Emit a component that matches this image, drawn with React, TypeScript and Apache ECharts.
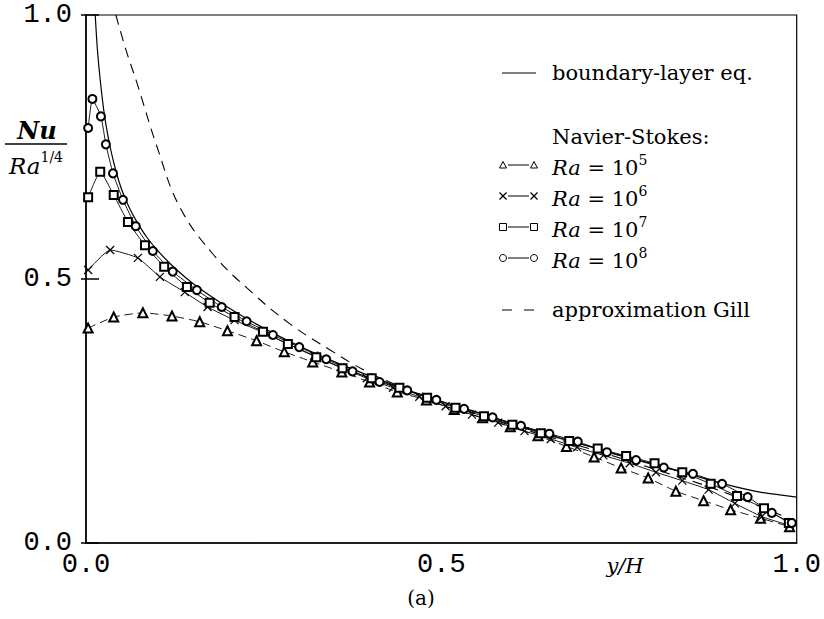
import React, { useEffect, useRef } from "react";
import * as echarts from "echarts";

// x-axis tick labels / y-axis tick labels
const xTickLabels = ["0.0", "0.5", "1.0"];
const yTickLabels = ["0.0", "0.5", "1.0"];

// boundary-layer equations (solid curve)
const blX = [0.013, 0.016, 0.02, 0.026, 0.034, 0.042, 0.05, 0.06, 0.07, 0.085, 0.1, 0.12, 0.14, 0.16, 0.2, 0.25, 0.3, 0.35, 0.4, 0.45, 0.5, 0.55, 0.6, 0.65, 0.7, 0.75, 0.8, 0.85, 0.9, 0.95, 1.0];
const blY = [1.0, 0.935, 0.877, 0.81, 0.75, 0.705, 0.67, 0.638, 0.612, 0.58, 0.555, 0.527, 0.503, 0.482, 0.446, 0.407, 0.373, 0.343, 0.316, 0.291, 0.268, 0.248, 0.226, 0.206, 0.186, 0.167, 0.149, 0.13, 0.111, 0.096, 0.087];

// Gill approximation (dashed curve)
const gillX = [0.042, 0.056, 0.072, 0.1, 0.132, 0.18, 0.233, 0.287, 0.343, 0.399, 0.455, 0.511, 0.6, 0.7, 0.8, 0.9, 1.0];
const gillY = [1.0, 0.935, 0.87, 0.75, 0.636, 0.545, 0.475, 0.415, 0.366, 0.322, 0.29, 0.262, 0.222, 0.182, 0.14, 0.095, 0.04];

// Navier-Stokes, Ra = 1e5 (triangles)
const ra5X = [0.003, 0.039, 0.08, 0.121, 0.16, 0.199, 0.24, 0.279, 0.319, 0.36, 0.399, 0.438, 0.479, 0.518, 0.558, 0.597, 0.636, 0.676, 0.715, 0.753, 0.791, 0.83, 0.869, 0.907, 0.949, 0.99];
const ra5Y = [0.407, 0.428, 0.436, 0.43, 0.419, 0.402, 0.383, 0.362, 0.343, 0.324, 0.305, 0.286, 0.271, 0.253, 0.237, 0.22, 0.203, 0.183, 0.163, 0.142, 0.123, 0.098, 0.08, 0.063, 0.047, 0.031];

// Navier-Stokes, Ra = 1e6 (crosses)
const ra6X = [0.003, 0.034, 0.073, 0.104, 0.139, 0.171, 0.209, 0.247, 0.284, 0.321, 0.358, 0.395, 0.432, 0.469, 0.506, 0.543, 0.58, 0.617, 0.654, 0.691, 0.728, 0.765, 0.802, 0.839, 0.876, 0.913, 0.951, 0.99];
const ra6Y = [0.517, 0.555, 0.54, 0.504, 0.475, 0.447, 0.422, 0.4, 0.377, 0.355, 0.333, 0.312, 0.294, 0.277, 0.259, 0.243, 0.228, 0.212, 0.197, 0.181, 0.166, 0.151, 0.134, 0.118, 0.101, 0.075, 0.05, 0.033];

// Navier-Stokes, Ra = 1e7 (squares)
const ra7X = [0.003, 0.02, 0.039, 0.059, 0.083, 0.11, 0.142, 0.174, 0.209, 0.249, 0.284, 0.324, 0.361, 0.402, 0.441, 0.48, 0.52, 0.56, 0.6, 0.64, 0.68, 0.72, 0.76, 0.8, 0.839, 0.879, 0.916, 0.954, 0.989];
const ra7Y = [0.655, 0.703, 0.659, 0.608, 0.564, 0.523, 0.485, 0.455, 0.428, 0.4, 0.377, 0.352, 0.331, 0.312, 0.294, 0.275, 0.256, 0.24, 0.224, 0.208, 0.193, 0.179, 0.165, 0.151, 0.134, 0.112, 0.089, 0.066, 0.038];

// Navier-Stokes, Ra = 1e8 (circles)
const ra8X = [0.003, 0.009, 0.021, 0.028, 0.038, 0.052, 0.07, 0.094, 0.122, 0.156, 0.191, 0.226, 0.263, 0.3, 0.338, 0.375, 0.413, 0.452, 0.493, 0.532, 0.572, 0.612, 0.652, 0.692, 0.733, 0.774, 0.813, 0.854, 0.895, 0.931, 0.965, 0.993];
const ra8Y = [0.786, 0.841, 0.808, 0.755, 0.7, 0.65, 0.6, 0.553, 0.514, 0.479, 0.447, 0.42, 0.394, 0.371, 0.348, 0.325, 0.305, 0.289, 0.271, 0.254, 0.238, 0.222, 0.207, 0.192, 0.172, 0.157, 0.143, 0.131, 0.112, 0.087, 0.057, 0.038];

const legendRaExp = ["5", "6", "7", "8"];

const pairs = (xs: number[], ys: number[]) => xs.map((x, i) => [x, ys[i]]);

const CROSS = "path://M0,0L10,10M10,0L0,10";

export default function App() {
  const ref = useRef<HTMLDivElement>(null);

  useEffect(() => {
    if (!ref.current) return;
    const chart = echarts.init(ref.current, null, { renderer: "svg" });
    const serif = "DejaVu Serif";
    const mono = "Liberation Mono";
    const black = "#000";

    const fmt = (labels: string[]) => (v: number) => labels[Math.round(v * 2)] ?? "";

    const nsSeries = (name: string, xs: number[], ys: number[], symbol: string, size: number, dashed: boolean) => ({
      name,
      type: "line",
      data: pairs(xs, ys),
      symbol,
      symbolSize: size,
      showAllSymbol: true,
      smooth: 0.15,
      lineStyle: { color: black, width: 0.9, type: dashed ? [8, 5] : "solid" },
      itemStyle: { color: symbol === CROSS ? "none" : black, borderColor: black, borderWidth: symbol === CROSS ? 1.2 : 1 },
      z: 3,
    });

    const rowY = [165, 196, 227, 258];
    const legendGraphics: any[] = [];
    legendGraphics.push({ type: "line", shape: { x1: 502, y1: 73, x2: 536, y2: 73 }, style: { stroke: black, lineWidth: 1.2 } });
    legendGraphics.push({ type: "text", x: 552, y: 73, style: { text: "boundary-layer eq.", font: `21px '${serif}'`, fill: black, verticalAlign: "middle" } });
    legendGraphics.push({ type: "text", x: 552, y: 137, style: { text: "Navier-Stokes:", font: `21px '${serif}'`, fill: black, verticalAlign: "middle" } });
    rowY.forEach((y, i) => {
      legendGraphics.push({ type: "line", shape: { x1: 508, y1: y, x2: 529, y2: y }, style: { stroke: black, lineWidth: 1 } });
      [503, 534].forEach((cx) => {
        if (i === 0) {
          legendGraphics.push({ type: "polygon", shape: { points: [[cx, y - 3.5], [cx - 3.5, y + 3], [cx + 3.5, y + 3]] }, style: { fill: "#fff", stroke: black, lineWidth: 1 } });
        } else if (i === 1) {
          legendGraphics.push({ type: "line", shape: { x1: cx - 3.5, y1: y - 3.5, x2: cx + 3.5, y2: y + 3.5 }, style: { stroke: black, lineWidth: 1.2 } });
          legendGraphics.push({ type: "line", shape: { x1: cx + 3.5, y1: y - 3.5, x2: cx - 3.5, y2: y + 3.5 }, style: { stroke: black, lineWidth: 1.2 } });
        } else if (i === 2) {
          legendGraphics.push({ type: "rect", shape: { x: cx - 3.5, y: y - 3.5, width: 7, height: 7 }, style: { fill: "#fff", stroke: black, lineWidth: 1 } });
        } else {
          legendGraphics.push({ type: "circle", shape: { cx, cy: y, r: 3.5 }, style: { fill: "#fff", stroke: black, lineWidth: 1 } });
        }
      });
      legendGraphics.push({
        type: "text",
        x: 552,
        y: y - 12,
        style: {
          text: `{i|Ra}{n| = 10}{s|${legendRaExp[i]}}`,
          fill: black,
          rich: {
            i: { fontFamily: serif, fontStyle: "italic", fontSize: 21, lineHeight: 25, verticalAlign: "bottom" },
            n: { fontFamily: serif, fontSize: 21, lineHeight: 25, verticalAlign: "bottom" },
            s: { fontFamily: serif, fontSize: 14, lineHeight: 14, verticalAlign: "top" },
          },
        },
      });
    });
    legendGraphics.push({ type: "line", shape: { x1: 502, y1: 310, x2: 512, y2: 310 }, style: { stroke: black, lineWidth: 1 } });
    legendGraphics.push({ type: "line", shape: { x1: 524, y1: 310, x2: 534, y2: 310 }, style: { stroke: black, lineWidth: 1 } });
    legendGraphics.push({ type: "text", x: 552, y: 310, style: { text: "approximation Gill", font: `21px '${serif}'`, fill: black, verticalAlign: "middle" } });

    const texts = [
      { type: "text", x: 37, y: 130, style: { text: "Nu", font: `italic 600 24px '${serif}'`, fill: black, align: "center", verticalAlign: "middle" } },
      { type: "line", shape: { x1: 5, y1: 144, x2: 67, y2: 144 }, style: { stroke: black, lineWidth: 1.5 } },
      {
        type: "text",
        x: 36,
        y: 150,
        style: {
          text: "{i|Ra}{s|1/4}",
          fill: black,
          align: "center",
          rich: {
            i: { fontFamily: serif, fontStyle: "italic", fontSize: 23, lineHeight: 27, verticalAlign: "bottom" },
            s: { fontFamily: serif, fontSize: 14, lineHeight: 14, verticalAlign: "top" },
          },
        },
      },
      { type: "text", x: 625, y: 566, style: { text: "y/H", font: `italic 21px '${serif}'`, fill: black, align: "center", verticalAlign: "middle" } },
      { type: "text", x: 421, y: 598, style: { text: "(a)", font: `20px '${serif}'`, fill: black, align: "center", verticalAlign: "middle" } },
    ];

    const axisLabelStyle = { fontFamily: mono, fontSize: 27, color: black };

    chart.setOption({
      animation: false,
      backgroundColor: "#fff",
      grid: { left: 86, top: 15, right: 27, bottom: 76, show: true, borderColor: black, borderWidth: 1.2, backgroundColor: "transparent" },
      xAxis: {
        type: "value",
        min: 0,
        max: 1,
        interval: 0.5,
        axisLine: { show: true, lineStyle: { color: black, width: 1.5 } },
        axisTick: { show: false },
        splitLine: { show: false },
        axisLabel: { ...axisLabelStyle, margin: 8, formatter: fmt(xTickLabels), showMinLabel: true, showMaxLabel: true },
      },
      yAxis: [
        {
          type: "value",
          min: 0,
          max: 1,
          interval: 0.5,
          axisLine: { show: true, lineStyle: { color: black, width: 1.5 } },
          axisTick: { show: true, length: 5, lineStyle: { color: black, width: 1.5 } },
          splitLine: { show: false },
          axisLabel: { ...axisLabelStyle, margin: 14, formatter: fmt(yTickLabels), showMinLabel: true, showMaxLabel: true },
        },
        {
          type: "value",
          min: 0,
          max: 1,
          interval: 0.5,
          position: "left",
          axisLine: { show: false },
          axisTick: { show: true, inside: true, length: 13, lineStyle: { color: black, width: 1.5 } },
          splitLine: { show: false },
          axisLabel: { show: false },
        },
      ],
      series: [
        {
          name: "boundary-layer eq.",
          type: "line",
          data: pairs(blX, blY),
          symbol: "none",
          smooth: 0.3,
          lineStyle: { color: black, width: 1.2 },
          z: 2,
        },
        {
          name: "approximation Gill",
          type: "line",
          data: pairs(gillX, gillY),
          symbol: "none",
          smooth: 0.4,
          lineStyle: { color: black, width: 1.1, type: [10, 7] },
          z: 2,
        },
        nsSeries("Ra=10^5", ra5X, ra5Y, "emptyTriangle", 9, true),
        nsSeries("Ra=10^6", ra6X, ra6Y, CROSS, 8, false),
        nsSeries("Ra=10^7", ra7X, ra7Y, "emptyRect", 8, false),
        nsSeries("Ra=10^8", ra8X, ra8Y, "emptyCircle", 8, false),
      ],
      graphic: [...legendGraphics, ...texts],
    });

    return () => chart.dispose();
  }, []);

  return <div ref={ref} style={{ position: "absolute", left: 0, top: 0, width: 824, height: 619 }} />;
}
